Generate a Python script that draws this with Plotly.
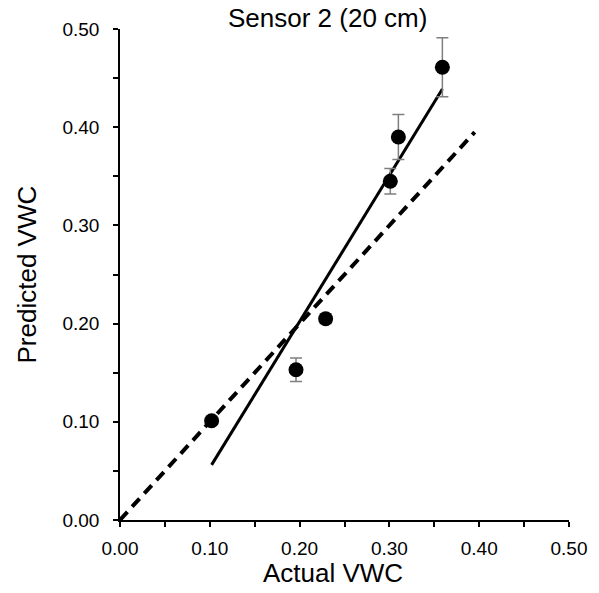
import numpy as np
import plotly.graph_objects as go

# Data
actual = [0.102, 0.196, 0.229, 0.301, 0.310, 0.359]
predicted = [0.101, 0.153, 0.205, 0.345, 0.390, 0.461]
pred_err = [0.003, 0.012, 0.005, 0.013, 0.023, 0.030]
one_to_one = [0.0, 0.395]
tick_vals = [0.0, 0.1, 0.2, 0.3, 0.4, 0.5]
tick_text = ["0.00", "0.10", "0.20", "0.30", "0.40", "0.50"]

slope, intercept = np.polyfit(actual, predicted, 1)
fit_x = [min(actual), max(actual)]
fit_y = [slope * v + intercept for v in fit_x]

FONT = "Liberation Sans, Arial, sans-serif"

fig = go.Figure()
fig.add_trace(go.Scatter(x=one_to_one, y=one_to_one, mode="lines",
                         line=dict(color="black", width=4, dash="11px,7px"),
                         showlegend=False, hoverinfo="skip"))
fig.add_trace(go.Scatter(x=fit_x, y=fit_y, mode="lines",
                         line=dict(color="black", width=3),
                         showlegend=False, hoverinfo="skip"))
fig.add_trace(go.Scatter(x=actual, y=predicted, mode="markers",
                         marker=dict(color="black", size=15),
                         error_y=dict(type="data", array=pred_err, visible=True,
                                      color="#7f7f7f", thickness=1.5, width=6),
                         showlegend=False))

axis_common = dict(range=[0, 0.5], tickvals=tick_vals, ticktext=tick_text,
                   showgrid=False, zeroline=False, showline=True,
                   linecolor="black", linewidth=1.5,
                   ticks="outside", ticklen=5, tickwidth=1.5, tickcolor="black",
                   tickfont=dict(family=FONT, size=19, color="black"),
                   minor=dict(dtick=0.05, ticks="outside", ticklen=5,
                              tickwidth=1.5, tickcolor="black", showgrid=False))

fig.update_layout(
    width=599, height=593,
    margin=dict(l=120, r=30, t=29, b=73),
    plot_bgcolor="white", paper_bgcolor="white",
    xaxis=dict(**axis_common, ticklabelstandoff=5),
    yaxis=dict(**axis_common, ticklabelstandoff=10),
    annotations=[
        dict(text="Sensor 2 (20 cm)", x=(327.5 - 120) / 449, y=(520 - 18) / 491,
             xref="paper", yref="paper", showarrow=False,
             xanchor="center", yanchor="middle",
             font=dict(family=FONT, size=26, color="black")),
        dict(text="Actual VWC", x=(333 - 120) / 449, y=(520 - 573) / 491,
             xref="paper", yref="paper", showarrow=False,
             xanchor="center", yanchor="middle",
             font=dict(family=FONT, size=26, color="black")),
        dict(text="Predicted VWC", x=(26 - 120) / 449, y=0.5,
             xref="paper", yref="paper", showarrow=False, textangle=-90,
             xanchor="center", yanchor="middle",
             font=dict(family=FONT, size=26, color="black")),
    ],
)

fig.write_html("out.html")
